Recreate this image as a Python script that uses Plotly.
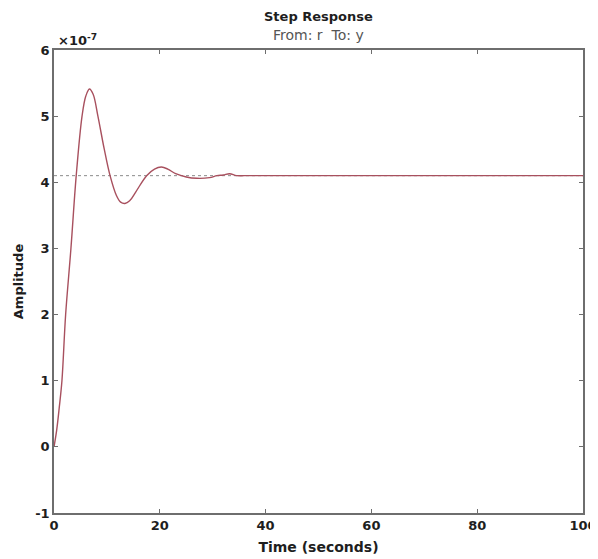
import plotly.graph_objects as go

# Step response samples (amplitude in units of 1e-7)
time_s = [0, 0.5, 1.0, 1.5, 2.2, 3.2, 4.2, 5.3, 6.0, 6.7, 7.4, 8.3, 9.5, 10.6, 11.8, 12.6,
          13.4, 14.3, 15.5, 17.5, 19.0, 20.3, 21.5, 23.0, 25.0, 27.0, 29.4, 30.8, 32.0, 33.2,
          34.5, 36.0, 40.0, 50.0, 60.0, 70.0, 80.0, 90.0, 100.0]
amplitude = [0, 0.25, 0.6, 1.0, 2.0, 3.0, 4.1, 5.0, 5.3, 5.41, 5.33, 5.0, 4.5, 4.1, 3.8, 3.7,
             3.68, 3.72, 3.86, 4.1, 4.2, 4.23, 4.2, 4.13, 4.08, 4.06, 4.07, 4.1, 4.11, 4.13,
             4.1, 4.1, 4.1, 4.1, 4.1, 4.1, 4.1, 4.1, 4.1]
final_value = 4.1
x_ticks = [0, 20, 40, 60, 80, 100]
y_ticks = [-1, 0, 1, 2, 3, 4, 5, 6]

FONT = "DejaVu Sans"
INK = "#1e1e1e"

fig = go.Figure()
fig.add_trace(go.Scatter(x=[0, 100], y=[final_value, final_value], mode="lines",
                         line=dict(color="#8a8a8a", width=1, dash="dot"),
                         hoverinfo="skip", showlegend=False))
fig.add_trace(go.Scatter(x=time_s, y=amplitude, mode="lines", line_shape="spline",
                         line=dict(color="#a8505e", width=1.4), showlegend=False))

axis_common = dict(showline=True, linecolor="#6e6e6e", linewidth=1.5, mirror="ticks",
                   ticks="inside", ticklen=4, tickcolor="#6e6e6e", showgrid=False,
                   zeroline=False, automargin=False,
                   tickfont=dict(family=FONT, size=13, color=INK))

fig.update_layout(
    width=590, height=551,
    paper_bgcolor="white", plot_bgcolor="white",
    margin=dict(l=46, r=15, t=42, b=46),
    xaxis=dict(range=[0, 100], tickvals=x_ticks, ticktext=[f"<b>{v}</b>" for v in x_ticks],
               **axis_common,
               title=dict(text="<b>Time (seconds)</b>", standoff=10,
                          font=dict(family=FONT, size=14, color=INK))),
    yaxis=dict(range=[-1, 6], tickvals=y_ticks, ticktext=[f"<b>{v}</b>" for v in y_ticks],
               **axis_common,
               title=dict(text="<b>Amplitude</b>", standoff=9,
                          font=dict(family=FONT, size=13, color=INK))),
    annotations=[
        dict(text="<b>Step Response</b>", x=0.5, y=1, xref="paper", yref="paper",
             yshift=34, showarrow=False, xanchor="center", yanchor="middle",
             font=dict(family=FONT, size=13, color=INK)),
        dict(text="From: r  To: y", x=0.5, y=1, xref="paper", yref="paper",
             yshift=15, showarrow=False, xanchor="center", yanchor="middle",
             font=dict(family=FONT, size=14, color="#555")),
        dict(text="<b>×10<sup>-7</sup></b>", x=0, y=1, xref="paper", yref="paper",
             xshift=2, yshift=10, showarrow=False, xanchor="left", yanchor="middle",
             font=dict(family=FONT, size=13, color=INK)),
    ],
)

fig.write_html("out.html")
